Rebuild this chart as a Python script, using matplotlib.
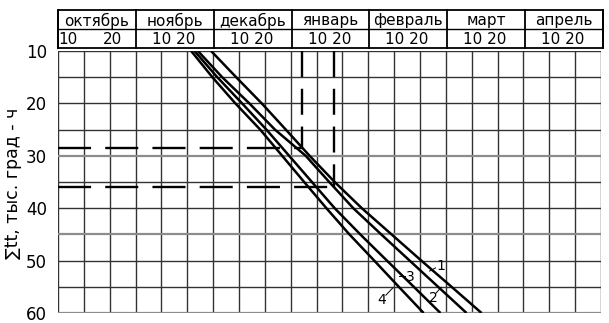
import matplotlib
matplotlib.use("Agg")
import matplotlib.pyplot as plt

plt.rcParams['font.family'] = ['DejaVu Sans']

# ---- data ----
months = ["октябрь", "ноябрь", "декабрь", "январь", "февраль", "март", "апрель"]
sum_levels = [10, 15, 20, 25, 30, 35, 40, 45, 50, 55, 60]  # тыс. град-ч
# date position (in decades from 1 October) at each sum level
curve1 = [5.92, 6.89, 7.88, 8.81, 9.73, 10.70, 11.75, 12.90, 14.05, 15.22, 16.38]
curve2 = [5.41, 6.35, 7.40, 8.39, 9.58, 10.49, 11.42, 12.50, 13.60, 14.70, 15.80]
curve3 = [5.28, 6.16, 7.12, 8.06, 8.94, 9.82, 10.70, 11.69, 12.72, 13.76, 14.79]
curve4 = [5.15, 5.97, 6.86, 7.82, 8.67, 9.52, 10.38, 11.27, 12.23, 13.18, 14.14]
curves = [curve1, curve2, curve3, curve4]
curve_labels = ["1", "2", "3", "4"]
label_pos = [(14.80, 51.1), (14.53, 57.1), (13.62, 53.2), (12.52, 57.5)]
leader_from = [(14.60, 51.4), (14.62, 56.2), (13.42, 53.0), (12.68, 56.6)]
leader_to = [(14.37, 52.0), (14.82, 55.1), (13.18, 53.0), (12.95, 55.2)]
# dashed read-off lines: (date position, sum)
readoffs = [(9.44, 28.5), (10.67, 36.0)]
yticks = [10, 20, 30, 40, 50, 60]

W, H = 609, 323
fig = plt.figure(figsize=(W / 100, H / 100), dpi=100)
ax = fig.add_axes([58 / W, 10 / H, (601 - 58) / W, (313 - 51) / H])
hax = fig.add_axes([58 / W, (H - 48) / H, (603 - 58) / W, (48 - 10) / H])

ax.set_xlim(0, 21)
ax.set_ylim(60, 10)

# grid
for i in range(22):
    ax.axvline(i, color="#333333", lw=1.0, zorder=1)
for v in range(10, 61, 5):
    c = "#8c8c8c" if v in (30, 45, 60) else "#333333"
    lw = 1.6 if v in (30, 45, 60) else 1.0
    ax.axhline(v, color=c, lw=lw, zorder=1)

for s in ax.spines.values():
    s.set_visible(False)
ax.set_xticks([])
ax.set_yticks(yticks)
ax.set_yticklabels([str(t) for t in yticks], fontsize=12)
ax.tick_params(axis="y", length=0, pad=8)
fig.text(13 / W, 1 - 183 / H, "∑tt, тыс. град - ч", rotation=90,
         ha="center", va="center", fontsize=12.5)

# curves
for xs in curves:
    ax.plot(xs, sum_levels, color="black", lw=1.8, zorder=3, solid_capstyle="butt")

for lab, (lx, ly), (fx, fy), (tx, ty) in zip(curve_labels, label_pos, leader_from, leader_to):
    ax.text(lx, ly, lab, fontsize=10, ha="center", va="center", zorder=4)
    ax.plot([fx, tx], [fy, ty], color="black", lw=0.7, zorder=4)

# dashed read-off lines
for xd, yd in readoffs:
    ax.plot([0, xd], [yd, yd], color="black", lw=1.7, ls=(0, (14, 6)), zorder=2)
    ax.plot([xd, xd], [10, yd], color="black", lw=1.7, ls=(0, (11, 5)), zorder=2)

# header
hax.set_xlim(0, 21)
hax.set_ylim(0, 2)
hax.axis("off")
hax.plot([0, 21, 21, 0, 0], [0, 0, 2, 2, 0], color="black", lw=1.3, clip_on=False)
hax.plot([0, 21], [1, 1], color="black", lw=1.0)
for i in range(0, 22, 3):
    hax.plot([i, i], [0, 2], color="black", lw=1.3, clip_on=False)
for i, m in enumerate(months):
    hax.text(3 * i + 1.5, 1.45, m, ha="center", va="center", fontsize=11)
    if i == 0:
        hax.text(0.4, 0.45, "10", ha="center", va="center", fontsize=11)
        hax.text(2.1, 0.45, "20", ha="center", va="center", fontsize=11)
    else:
        hax.text(3 * i + 1.45, 0.45, "10 20", ha="center", va="center", fontsize=11)

fig.savefig("out.png", dpi=100, facecolor="white")
